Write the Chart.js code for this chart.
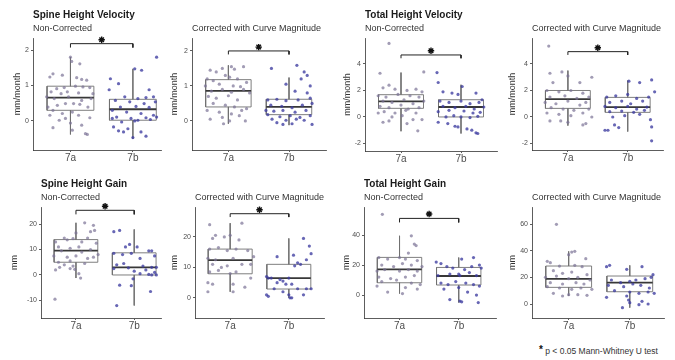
<!DOCTYPE html>
<html>
<head>
<meta charset="utf-8">
<script src="https://cdn.jsdelivr.net/npm/chart.js@4.4.0/dist/chart.umd.min.js"></script>
<style>
    body { margin: 0; background: #fff; width: 675px; height: 360px; position: relative; overflow: hidden; font-family: 'Liberation Sans', Arial, sans-serif; }
    .panel { position: absolute; }
    #note { position: absolute; left: 539px; top: 345px; font-size: 8.5px; color: #333; white-space: nowrap; }
    #note span { font-size: 10px; font-weight: bold; position: relative; top: -1px; color: #111; }
</style>
</head>
<body>
<div class="panel" style="left:0px;top:0px;width:167px;height:168px"><canvas id="p1"></canvas></div>
<div class="panel" style="left:168px;top:0px;width:164px;height:168px"><canvas id="p2"></canvas></div>
<div class="panel" style="left:336px;top:0px;width:167px;height:168px"><canvas id="p3"></canvas></div>
<div class="panel" style="left:505px;top:0px;width:164px;height:168px"><canvas id="p4"></canvas></div>
<div class="panel" style="left:0px;top:170px;width:167px;height:165px"><canvas id="p5"></canvas></div>
<div class="panel" style="left:168px;top:170px;width:162px;height:165px"><canvas id="p6"></canvas></div>
<div class="panel" style="left:336px;top:170px;width:166px;height:165px"><canvas id="p7"></canvas></div>
<div class="panel" style="left:505px;top:170px;width:163px;height:165px"><canvas id="p8"></canvas></div>
<div id="note"><span>*</span> p &lt; 0.05 Mann-Whitney U test</div>

<script>
// Gruplar
const categories = ['7a', '7b'];

// Her grup için kutu: [alt bıyık, Q1, medyan, Q3, üst bıyık]
// Noktalar: [yatay sapma, değer]
// Anlamlılık: [çentik ucu, köprü, yıldız]

// Spine Height Velocity - Non-Corrected
const shvNC_ticks = [0, 1, 2];
const shvNC_box = [[-0.38, 0.30, 0.66, 0.98, 1.80], [-0.50, 0.02, 0.33, 0.61, 1.47]];
const shvNC_sig = [2.07, 2.18, 2.29];
const shvNC_7a = [[-0.28,1.33],[-0.33,1.24],[0,1.80],[0.02,1.68],[0.15,1.61],[-0.13,1.29],[0.10,1.22],[0.18,1.17],[0.26,1.15],[-0.22,0.91],[-0.10,0.94],[0.08,0.98],[0.20,0.96],[0.31,0.94],[-0.31,0.82],[-0.15,0.77],[-0.05,0.82],[0.13,0.79],[0.36,0.77],[-0.38,0.68],[-0.26,0.63],[-0.03,0.68],[0.18,0.58],[0.33,0.63],[-0.36,0.39],[-0.21,0.44],[-0.08,0.49],[0.05,0.49],[0.15,0.47],[0.28,0.39],[-0.28,0.30],[-0.13,0.21],[0.03,0.25],[-0.33,0.16],[0.13,0.16],[0.31,0.09],[-0.08,0.07],[-0.18,0.02],[0,-0.06],[0.18,-0.12],[-0.28,-0.19],[0.03,-0.26],[0.24,-0.36],[0.27,-0.38]];
const shvNC_7b = [[0.38,1.80],[0.03,1.47],[0.14,1.43],[-0.36,1.19],[-0.23,1.05],[0.26,0.88],[-0.38,0.88],[-0.13,0.68],[0.08,0.63],[0.21,0.66],[0.33,0.68],[-0.28,0.58],[-0.05,0.54],[0.18,0.49],[0.36,0.54],[-0.20,0.39],[0.05,0.41],[0.26,0.38],[-0.33,0.30],[-0.10,0.25],[0.13,0.21],[0.33,0.16],[-0.26,0.11],[-0.03,0.07],[0.21,0.09],[0.38,0.11],[-0.33,0.07],[0.08,0.02],[0.28,0.04],[-0.18,-0.03],[0.03,0.0],[-0.31,-0.17],[-0.08,-0.22],[-0.23,-0.28],[-0.15,-0.31],[0.13,-0.31],[0,-0.47],[0.21,-0.43]];

// Spine Height Velocity - Corrected
const shvC_ticks = [0, 1, 2];
const shvC_box = [[-0.08, 0.40, 0.86, 1.18, 1.59], [-0.12, 0.18, 0.40, 0.62, 1.24]];
const shvC_sig = [1.90, 2.00, 2.11];
const shvC_7a = [[-0.30,1.45],[-0.20,1.40],[-0.10,1.50],[0.05,1.55],[0.10,1.48],[0.25,1.55],[-0.35,1.20],[-0.25,1.15],[-0.05,1.30],[0.02,1.25],[0.15,1.20],[0.30,1.10],[-0.38,1.00],[-0.15,1.05],[0.08,1.00],[0.20,0.98],[-0.28,0.85],[-0.10,0.90],[0.05,0.82],[0.25,0.90],[0.35,0.80],[-0.33,0.70],[-0.20,0.65],[0,0.72],[0.15,0.60],[-0.25,0.50],[-0.05,0.45],[0.10,0.40],[0.30,0.35],[-0.35,0.30],[-0.15,0.25],[0.05,0.20],[0.22,0.30],[-0.30,0.05],[-0.10,0.10],[0.02,0.0],[0.18,0.15],[0.28,0.0],[-0.08,-0.08]];
const shvC_7b = [[-0.29,1.50],[0.13,1.59],[0.25,1.40],[0.30,1.30],[-0.05,1.05],[0.20,1.20],[0.35,1.00],[0.10,0.85],[0.30,0.80],[-0.35,0.60],[-0.20,0.62],[-0.05,0.58],[0.15,0.60],[0.35,0.65],[-0.30,0.45],[-0.12,0.42],[0.05,0.38],[0.22,0.45],[0.38,0.50],[-0.38,0.30],[-0.25,0.28],[-0.10,0.30],[0.10,0.25],[0.28,0.30],[-0.35,0.18],[-0.15,0.12],[0.02,0.15],[0.18,0.10],[0.35,0.15],[-0.28,0.05],[-0.05,0.02],[0.12,0.05],[0.25,0.02],[-0.20,-0.05],[0.05,-0.08],[0.38,-0.10],[-0.10,-0.10]];

// Total Height Velocity - Non-Corrected
const thvNC_ticks = [-2, 0, 2, 4];
const thvNC_box = [[-1.08, 0.65, 1.18, 1.68, 3.35], [-1.25, 0.0, 0.75, 1.30, 2.43]];
const thvNC_sig = [4.43, 4.68, 5.0];
const thvNC_7a = [[-0.20,5.55],[-0.35,3.30],[0.38,3.40],[-0.30,2.20],[-0.20,2.40],[-0.10,2.10],[0.10,2.00],[0.25,2.10],[0.35,1.90],[-0.38,1.60],[-0.25,1.50],[-0.05,1.70],[0.15,1.60],[0.30,1.50],[-0.30,1.20],[-0.15,1.10],[0.05,1.30],[0.20,1.00],[0.38,1.20],[-0.35,0.80],[-0.20,0.70],[0,0.90],[0.12,0.60],[0.30,0.70],[-0.28,0.40],[-0.10,0.30],[0.08,0.50],[0.25,0.30],[-0.38,0.30],[-0.15,0.0],[0.02,0.10],[0.20,-0.20],[-0.30,-0.40],[-0.20,-0.30],[0.10,-0.50],[0.28,-1.05],[0.35,-0.20]];
const thvNC_7b = [[-0.40,3.35],[-0.38,2.60],[0.02,2.30],[-0.30,1.90],[-0.15,1.80],[-0.05,1.70],[0.25,1.80],[0.35,1.30],[-0.35,1.20],[-0.20,1.10],[0,1.20],[0.15,1.00],[0.30,1.10],[-0.30,0.80],[-0.10,0.70],[0.08,0.80],[0.22,0.60],[0.38,0.75],[-0.38,0.40],[-0.20,0.50],[0.05,0.45],[0.20,0.30],[0.32,0.35],[-0.25,0.0],[-0.12,0.10],[0,0.0],[0.15,-0.05],[0.28,0.05],[-0.38,-0.40],[-0.22,-0.50],[-0.10,-0.70],[-0.05,-0.75],[0.10,-0.90],[0.18,-1.00],[0.25,-1.20],[0.28,-1.25]];

// Total Height Velocity - Corrected
const thvC_ticks = [-2, 0, 2, 4];
const thvC_box = [[-0.65, 0.65, 1.35, 2.0, 3.5], [-1.1, 0.35, 0.75, 1.48, 2.75]];
const thvC_sig = [4.68, 4.93, 5.23];
const thvC_7a = [[-0.32,5.35],[-0.30,3.30],[-0.10,3.40],[0,3.10],[0.40,3.00],[-0.25,2.60],[0.20,2.60],[-0.35,2.00],[-0.15,1.90],[0.05,2.00],[0.25,1.80],[-0.30,1.50],[-0.05,1.60],[0.15,1.40],[0.35,1.50],[-0.38,1.10],[-0.20,1.00],[0,1.20],[0.20,0.90],[0.30,1.10],[-0.28,0.70],[-0.08,0.60],[0.10,0.50],[0.35,0.60],[-0.35,0.30],[-0.15,0.20],[0.05,0.10],[0.25,0.30],[-0.30,-0.30],[-0.12,-0.30],[0,-0.40],[0.25,-0.60],[0.30,-0.50],[0.40,0.0]];
const thvC_7b = [[0.02,2.70],[0.20,2.60],[0.40,2.80],[0.45,1.90],[-0.35,1.50],[-0.20,1.60],[0,1.70],[0.15,1.40],[0.35,1.50],[-0.30,1.10],[-0.10,1.20],[0.05,1.00],[0.25,1.20],[-0.38,0.80],[-0.20,0.70],[0,0.80],[0.15,0.60],[0.32,0.75],[-0.30,0.40],[-0.10,0.45],[0.10,0.35],[0.28,0.50],[-0.25,0.0],[-0.05,0.10],[0.20,0.20],[0.38,-0.20],[-0.38,-1.00],[-0.33,-1.00],[-0.22,-0.60],[-0.15,-0.80],[0.40,-0.75],[0.40,-1.80]];

// Spine Height Gain - Non-Corrected
const shgNC_ticks = [-10, 0, 10, 20];
const shgNC_box = [[-1.2, 5.0, 9.6, 13.9, 20.5], [-12.0, 0.0, 3.0, 8.7, 17.9]];
const shgNC_sig = [23.8, 25.4, 27.0];
const shgNC_7a = [[-0.36,-9.5],[0,16.5],[0.15,20.5],[0.25,17],[0.30,19.5],[0.32,17.5],[-0.20,14.5],[-0.15,13.8],[-0.35,13],[-0.05,14.3],[0.10,13],[0.20,14.5],[0.35,12.5],[-0.30,11],[-0.10,10.5],[0.05,11],[0.25,10],[-0.25,9.5],[0.10,9],[0.38,8],[-0.38,7.5],[-0.15,7],[0,7.5],[0.20,6.5],[0.30,7],[-0.30,5],[-0.10,5.5],[0.15,4.5],[-0.20,4],[-0.28,3],[-0.05,3.5],[-0.35,2],[-0.10,2.5],[-0.02,2.2],[0.08,-1.2],[0.05,0.5]];
const shgNC_7b = [[-0.35,17],[-0.25,17.5],[-0.15,11],[-0.08,12],[0.05,11],[-0.35,8.5],[-0.20,8],[-0.05,8.5],[0.25,9.5],[0.30,9.5],[0.10,6.5],[0.35,7.5],[-0.30,4],[-0.18,4.5],[0.15,3.5],[0.30,3],[0.38,3],[-0.35,2.5],[-0.10,2.8],[0,1.5],[0.20,2],[0.35,1],[0.10,0.5],[-0.02,-1.5],[0.25,0.2],[0.30,0],[0.38,0],[-0.25,-4],[-0.05,-4.2],[0.28,-6.5],[-0.30,-12]];

// Spine Height Gain - Corrected
const shgC_ticks = [0, 10, 20];
const shgC_box = [[2.0, 7.9, 12.4, 16.0, 24.5], [0.0, 2.9, 6.5, 11.0, 19.5]];
const shgC_sig = [26.5, 27.6, 28.9];
const shgC_7a = [[-0.35,24],[0.20,24.5],[-0.30,19.5],[-0.25,20.5],[-0.10,20],[0,20.5],[0.15,19],[-0.35,16],[-0.20,16.5],[-0.05,15.5],[0.10,16],[0.30,15.5],[0.40,13.5],[-0.38,13],[-0.25,12.5],[0.05,13],[0.20,11],[-0.30,11],[-0.15,10],[-0.05,10.5],[0.35,11],[-0.35,8.5],[-0.20,9],[0,8],[0.10,8.5],[0.35,6.5],[-0.38,5],[-0.30,4.5],[0.05,4.5],[0.25,3.5],[-0.38,2],[0.05,2]];
const shgC_7b = [[-0.38,7],[-0.35,6.5],[-0.30,6.5],[-0.20,5],[-0.10,5.5],[-0.05,4.5],[0.05,4.5],[-0.15,6],[0,6.5],[0.10,10.5],[0.15,11.5],[0.20,11],[0.30,12.5],[0.35,17],[0.38,14.5],[0.25,19.5],[-0.20,13.5],[0.08,14],[-0.35,0.5],[-0.38,1],[-0.10,2],[0,1],[0.02,0],[0.05,0],[0.25,1],[0.30,3],[0.38,3],[0.15,3],[-0.25,3]];

// Total Height Gain - Non-Corrected
const thgNC_ticks = [0, 20, 40];
const thgNC_box = [[1.0, 8.2, 17.1, 25.1, 39.5], [-5.0, 6.7, 12.7, 18.4, 25.0]];
const thgNC_sig = [48.4, 51.1, 54.0];
const thgNC_7a = [[-0.29,53.8],[0.20,39.5],[0.25,34],[0.28,33],[0.15,28],[-0.35,25],[-0.20,24],[0,25],[0.10,24],[0.30,23],[-0.30,20],[-0.10,19],[0.05,21],[0.20,20],[0.38,19],[-0.38,16],[-0.25,17],[0,16],[0.15,17],[0.30,16],[-0.35,12],[-0.15,11],[0.10,12],[0.25,13],[-0.30,9],[-0.05,10],[0.20,8],[0.35,7],[-0.38,6],[0.10,5],[0.30,4],[-0.20,2],[0.05,1]];
const thgNC_7b = [[-0.38,22],[-0.30,21],[0.05,24],[0.25,25],[0.35,20],[0.38,18],[-0.20,19],[-0.10,18],[0.10,17],[0.22,19],[-0.35,13],[-0.15,14],[0,14],[0.02,13],[0.18,15],[0.30,13],[-0.30,8],[-0.18,7],[-0.05,9],[0.12,8],[0.25,7],[0.35,6],[-0.25,4],[0,5],[0.15,2],[0.30,0],[-0.15,-3],[0.02,-4],[0.05,-4.5],[0.33,-5]];

// Total Height Gain - Corrected
const thgC_ticks = [0, 20, 40, 60];
const thgC_box = [[6.0, 12.5, 18.8, 28.5, 39.5], [-2.75, 9.2, 16.0, 21.0, 29.0]];
const thgC_7a = [[-0.20,59.8],[0.05,39],[0.10,39.5],[0,37],[0.28,34],[-0.35,32],[-0.30,31],[-0.15,28.5],[0.10,29],[0.22,28],[-0.25,25],[-0.10,23],[0.05,24],[0.30,22],[-0.38,20],[-0.20,21],[0,19],[0.15,20],[0.35,18],[-0.30,16],[-0.10,15],[0.12,16],[0.25,15],[-0.35,13],[-0.15,12],[0.05,11],[0.20,12],[0.38,11],[-0.25,8],[0,7],[0.30,6.5],[-0.10,6],[0.15,7]];
const thgC_7b = [[-0.38,28],[-0.33,29],[-0.05,26],[0.20,28],[0.38,22],[0.35,20],[-0.30,18],[-0.15,16],[0,17],[0.10,18],[0.25,19],[-0.35,14],[-0.10,13],[0.05,15],[0.18,14],[0.32,12],[-0.25,10],[0,9],[0.15,8],[0.30,9],[0.40,8],[-0.38,5],[-0.05,6],[-0.02,3],[0,1],[0.15,-0.5],[0.20,2],[0.30,0],[-0.12,-2.75]];

const groupColors = ['rgba(122,114,150,0.7)', 'rgba(62,60,160,0.78)'];
const BOX_HALF = 0.375;
const FONT = "'Liberation Sans', Arial, sans-serif";

// Panel yerleşimi
const panels = [
    { id: 'p1', title: 'Spine Height Velocity', sub: 'Non-Corrected', unit: 'mm/month', ticks: shvNC_ticks, box: shvNC_box, pts: [shvNC_7a, shvNC_7b], sig: shvNC_sig, yMin: -0.82, yMax: 2.34, xMax: 2.46, yW: 33, yPad: 12.6, top: 9, xH: 18 },
    { id: 'p2', title: '', sub: 'Corrected with Curve Magnitude', unit: 'mm/month', ticks: shvC_ticks, box: shvC_box, pts: [shvC_7a, shvC_7b], sig: shvC_sig, yMin: -0.83, yMax: 2.37, xMax: 2.62, yW: 24, yPad: 1.6, top: 9, xH: 18 },
    { id: 'p3', title: 'Total Height Velocity', sub: 'Non-Corrected', unit: 'mm/month', ticks: thvNC_ticks, box: thvNC_box, pts: [thvNC_7a, thvNC_7b], sig: thvNC_sig, yMin: -2.57, yMax: 5.96, xMax: 2.61, yW: 29, yPad: 6.6, top: 9, xH: 17 },
    { id: 'p4', title: '', sub: 'Corrected with Curve Magnitude', unit: 'mm/month', ticks: thvC_ticks, box: thvC_box, pts: [thvC_7a, thvC_7b], sig: thvC_sig, yMin: -2.49, yMax: 5.96, xMax: 2.6, yW: 27, yPad: 2.6, top: 9, xH: 18 },
    { id: 'p5', title: 'Spine Height Gain', sub: 'Non-Corrected', unit: 'mm', ticks: shgNC_ticks, box: shgNC_box, pts: [shgNC_7a, shgNC_7b], sig: shgNC_sig, yMin: -16.9, yMax: 26.7, xMax: 2.47, yW: 41, yPad: 9.6, top: 8, xH: 17 },
    { id: 'p6', title: '', sub: 'Corrected with Curve Magnitude', unit: 'mm', ticks: shgC_ticks, box: shgC_box, pts: [shgC_7a, shgC_7b], sig: shgC_sig, yMin: -6.6, yMax: 29.8, xMax: 2.61, yW: 27, yPad: 1.6, top: 8, xH: 17 },
    { id: 'p7', title: 'Total Height Gain', sub: 'Non-Corrected', unit: 'mm', ticks: thgNC_ticks, box: thgNC_box, pts: [thgNC_7a, thgNC_7b], sig: thgNC_sig, yMin: -15.3, yMax: 58.7, xMax: 2.64, yW: 28, yPad: 5.6, top: 8, xH: 17 },
    { id: 'p8', title: '', sub: 'Corrected with Curve Magnitude', unit: 'mm', ticks: thgC_ticks, box: thgC_box, pts: [thgC_7a, thgC_7b], sig: null, yMin: -10.5, yMax: 72.8, xMax: 2.56, yW: 27, yPad: 2.6, top: 8, xH: 17 }
];

// Çizgi veri seti (kutu, bıyık, köprü)
function lineSet(points, color, width) {
    return {
        data: points.map(p => ({ x: p[0], y: p[1] })),
        showLine: true,
        borderColor: color,
        borderWidth: width,
        pointRadius: 0,
        spanGaps: false,
        fill: false
    };
}

function makeChart(p) {
    const datasets = [];

    // Noktalar (en üstte çizilsin diye önce)
    p.pts.forEach((pts, i) => {
        datasets.push({
            data: pts.map(d => ({ x: i + 1 + d[0], y: d[1] })),
            backgroundColor: groupColors[i],
            borderWidth: 0,
            pointRadius: 1.6
        });
    });

    // Anlamlılık köprüsü ve yıldız
    if (p.sig) {
        datasets.push({
            data: [{ x: 1.5, y: p.sig[2] }],
            pointStyle: 'star',
            pointRadius: 3.2,
            borderColor: '#111',
            borderWidth: 1.4,
            clip: false
        });
        datasets.push(lineSet([[1, p.sig[0]], [1, p.sig[1]], [2, p.sig[1]], [2, p.sig[0]]], '#222', 1));
    }

    // Kutular
    p.box.forEach((b, i) => {
        const x = i + 1;
        const [lo, q1, med, q3, hi] = b;
        datasets.push(lineSet([[x, hi], [x, q3], [x, null], [x, q1], [x, lo]], '#707070', 0.9));
        datasets.push(lineSet([[x - BOX_HALF, med], [x + BOX_HALF, med]], '#383838', 1.8));
        datasets.push(lineSet([[x - BOX_HALF, q1], [x + BOX_HALF, q1], [x + BOX_HALF, q3], [x - BOX_HALF, q3], [x - BOX_HALF, q1]], '#707070', 0.9));
    });

    const axisGrid = { drawOnChartArea: false, drawTicks: true, tickLength: 2, color: '#333', lineWidth: 0.8 };
    const axisBorder = { display: true, color: '#333', width: 0.8 };

    new Chart(document.getElementById(p.id), {
        type: 'scatter',
        data: { datasets: datasets },
        options: {
            responsive: true,
            maintainAspectRatio: false,
            animation: false,
            events: [],
            layout: { padding: { top: p.title ? p.top : p.top + 14.6, left: 0, right: 0, bottom: 0 } },
            plugins: {
                legend: { display: false },
                tooltip: { enabled: false },
                title: {
                    display: !!p.title,
                    text: p.title,
                    align: 'start',
                    fullSize: false,
                    color: '#1a1a1a',
                    font: { family: FONT, size: 10, weight: 'bold', lineHeight: 1.2 },
                    padding: { top: 0, bottom: 2.6 }
                },
                subtitle: {
                    display: true,
                    text: p.sub,
                    align: 'start',
                    fullSize: false,
                    color: '#333',
                    font: { family: FONT, size: 9, lineHeight: 1.2 },
                    padding: { top: 0, bottom: 3.6 }
                }
            },
            scales: {
                x: {
                    type: 'linear',
                    min: 0.4,
                    max: p.xMax,
                    afterBuildTicks: axis => { axis.ticks = [{ value: 1 }, { value: 2 }]; },
                    afterFit: axis => { axis.height = p.xH; },
                    ticks: {
                        callback: v => categories[v - 1],
                        color: '#4d4d4d',
                        font: { family: FONT, size: 10 },
                        padding: 0,
                        maxRotation: 0,
                        autoSkip: false
                    },
                    grid: axisGrid,
                    border: axisBorder
                },
                y: {
                    min: p.yMin,
                    max: p.yMax,
                    afterBuildTicks: axis => { axis.ticks = p.ticks.map(v => ({ value: v })); },
                    afterFit: axis => { axis.width = p.yW; },
                    ticks: {
                        color: '#4d4d4d',
                        font: { family: FONT, size: 7 },
                        padding: 2,
                        autoSkip: false
                    },
                    grid: axisGrid,
                    border: axisBorder,
                    title: {
                        display: true,
                        text: p.unit,
                        color: '#333',
                        font: { family: FONT, size: 9, lineHeight: 1.2 },
                        padding: { top: p.yPad, bottom: 0 }
                    }
                }
            }
        }
    });
}

panels.forEach(makeChart);
</script>
</body>
</html>
